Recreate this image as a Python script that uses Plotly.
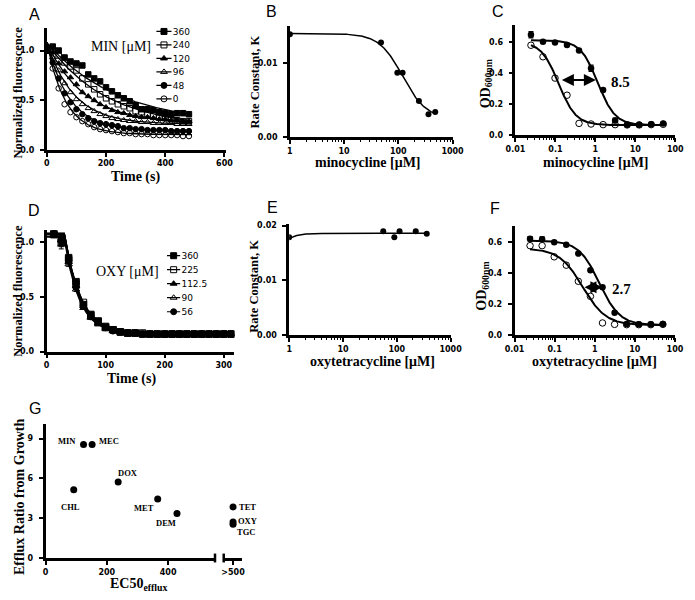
import numpy as np
import plotly.graph_objects as go

W, H = 695, 600

# ---------------- Panel A: MIN efflux kinetics ----------------
a_time = [0, 20, 40, 60, 80, 100, 120, 140, 160, 180, 200, 220, 240,
          260, 280, 300, 320, 340, 360, 380, 400, 420, 440, 460, 480]
a_labels = ["360", "240", "120", "96", "48", "0"]
a_min_360 = [1.00, 1.04, 1.00, 0.93, 0.89, 0.87, 0.85, 0.76, 0.72, 0.69, 0.63, 0.59, 0.55,
             0.52, 0.49, 0.45, 0.41, 0.41, 0.40, 0.38, 0.37, 0.36, 0.37, 0.37, 0.36]
a_min_240 = [1.00, 1.01, 0.95, 0.88, 0.84, 0.80, 0.72, 0.66, 0.61, 0.56, 0.52, 0.49, 0.46,
             0.44, 0.42, 0.39, 0.38, 0.36, 0.35, 0.33, 0.32, 0.31, 0.30, 0.29, 0.29]
a_min_120 = [1.00, 0.98, 0.87, 0.79, 0.73, 0.66, 0.58, 0.54, 0.50, 0.46, 0.43, 0.40, 0.38,
             0.37, 0.35, 0.34, 0.33, 0.33, 0.32, 0.31, 0.31, 0.30, 0.30, 0.29, 0.29]
a_min_96 = [1.00, 0.93, 0.80, 0.67, 0.58, 0.51, 0.46, 0.42, 0.39, 0.36, 0.34, 0.32, 0.31,
            0.30, 0.29, 0.29, 0.28, 0.28, 0.27, 0.27, 0.27, 0.27, 0.26, 0.26, 0.26]
a_min_48 = [1.00, 0.88, 0.72, 0.57, 0.48, 0.41, 0.36, 0.32, 0.29, 0.27, 0.26, 0.25, 0.24,
            0.22, 0.22, 0.21, 0.21, 0.20, 0.20, 0.20, 0.20, 0.19, 0.19, 0.19, 0.19]
a_min_0 = [1.00, 0.82, 0.62, 0.46, 0.38, 0.33, 0.29, 0.26, 0.23, 0.21, 0.20, 0.19, 0.18,
           0.17, 0.17, 0.16, 0.16, 0.16, 0.15, 0.15, 0.15, 0.15, 0.15, 0.14, 0.14]
a_fit_start = [1.08, 1.08, 1.08, 1.08, 1.08, 1.08]
a_fit_plateau = [0.25, 0.22, 0.27, 0.26, 0.19, 0.155]
a_fit_k = [0.0042, 0.005, 0.008, 0.011, 0.013, 0.016]
a_fit_tmax = 490

# ---------------- Panel B: rate constant vs minocycline ----------------
b_conc = [1, 48, 96, 120, 240, 360, 480]
b_rate = [0.0139, 0.0128, 0.0087, 0.0087, 0.0049, 0.0031, 0.0034]
b_fit = dict(top=0.0140, bottom=0.0025, ec50=120, hill=2.0)

# ---------------- Panel C: growth vs minocycline ----------------
c_conc = [0.0244, 0.0488, 0.0977, 0.195, 0.39, 0.78, 1.5625, 3.125, 6.25, 12.5, 25, 50]
c_od_filled = [0.645, 0.600, 0.595, 0.580, 0.545, 0.430, 0.290, 0.095, 0.068, 0.068, 0.070, 0.075]
c_od_filled_err = [0.02, 0, 0, 0, 0, 0.02, 0, 0.015, 0, 0, 0, 0]
c_od_open = [0.578, 0.504, 0.367, 0.257, 0.076, 0.072, 0.068, 0.068, 0.066, 0.066, 0.068, 0.070]
c_fit_filled = dict(top=0.61, bottom=0.065, ec50=1.15, hill=2.0)
c_fit_open = dict(top=0.60, bottom=0.065, ec50=0.12, hill=2.0)
c_shift_label = "8.5"
c_shift_from, c_shift_to, c_shift_level = 0.133, 1.03, 0.355

# ---------------- Panel D: OXY efflux kinetics ----------------
d_time = [12.5, 25, 37.5, 50, 62.5, 75, 87.5, 100, 112.5, 125, 137.5, 150, 162.5,
          175, 187.5, 200, 212.5, 225, 237.5, 250, 262.5, 275, 287.5, 300, 312.5]
d_labels = ["360", "225", "112.5", "90", "56"]
d_oxy_360 = [1.08, 1.03, 0.86, 0.64, 0.43, 0.34, 0.28, 0.23, 0.20, 0.18, 0.17, 0.17, 0.16,
             0.16, 0.16, 0.16, 0.16, 0.16, 0.16, 0.16, 0.16, 0.16, 0.16, 0.16, 0.16]
d_oxy_225 = [1.07, 1.00, 0.84, 0.62, 0.45, 0.33, 0.27, 0.22, 0.20, 0.18, 0.17, 0.17, 0.17,
             0.16, 0.16, 0.16, 0.16, 0.16, 0.16, 0.16, 0.16, 0.16, 0.16, 0.16, 0.16]
d_oxy_112 = [1.08, 1.02, 0.82, 0.60, 0.42, 0.32, 0.26, 0.22, 0.19, 0.18, 0.17, 0.17, 0.16,
             0.16, 0.16, 0.16, 0.16, 0.16, 0.16, 0.16, 0.16, 0.16, 0.16, 0.16, 0.16]
d_oxy_90 = [1.06, 0.98, 0.80, 0.57, 0.40, 0.31, 0.25, 0.21, 0.19, 0.18, 0.17, 0.16, 0.16,
            0.16, 0.16, 0.16, 0.16, 0.16, 0.16, 0.16, 0.16, 0.16, 0.16, 0.16, 0.16]
d_oxy_56 = [1.08, 1.01, 0.83, 0.59, 0.42, 0.32, 0.27, 0.22, 0.19, 0.18, 0.17, 0.17, 0.16,
            0.16, 0.16, 0.16, 0.16, 0.16, 0.16, 0.16, 0.16, 0.16, 0.16, 0.16, 0.16]
d_err = [0, 0.04, 0.02, 0.02, 0, 0, 0, 0, 0, 0, 0, 0, 0, 0, 0, 0, 0, 0, 0, 0, 0, 0, 0, 0, 0]
d_fit_start = [1.08, 1.07, 1.08, 1.05, 1.08]
d_fit_delay = [30, 30, 30, 30, 30]
d_fit_plateau = [0.16, 0.16, 0.16, 0.16, 0.16]
d_fit_k = [0.036, 0.036, 0.038, 0.040, 0.038]
d_fit_tmax = 312.5

# ---------------- Panel E: rate constant vs oxytetracycline ----------------
e_conc = [1, 56, 90, 112.5, 225, 360]
e_rate = [0.0179, 0.0190, 0.0179, 0.0190, 0.0190, 0.0185]
e_fit = dict(bottom=0.0150, top=0.0186, ec50=0.7, hill=3.0)

# ---------------- Panel F: growth vs oxytetracycline ----------------
f_conc = [0.0244, 0.0488, 0.0977, 0.195, 0.39, 0.78, 1.5625, 3.125, 6.25, 12.5, 25, 50]
f_od_filled = [0.622, 0.620, 0.600, 0.584, 0.527, 0.420, 0.310, 0.145, 0.072, 0.070, 0.070, 0.072]
f_od_filled_err = [0.015, 0.015, 0, 0, 0, 0.01, 0, 0.01, 0, 0, 0, 0]
f_od_open = [0.578, 0.578, 0.506, 0.452, 0.348, 0.251, 0.079, 0.070, 0.068, 0.068, 0.068, 0.070]
f_fit_filled = dict(top=0.61, bottom=0.065, ec50=1.3, hill=1.7)
f_fit_open = dict(top=0.56, bottom=0.065, ec50=0.5, hill=1.5)
f_shift_label = "2.7"
f_shift_from, f_shift_to, f_shift_level = 0.51, 1.55, 0.31

# ---------------- Panel G: efflux ratio vs EC50 ----------------
g_drugs = ["MIN", "MEC", "DOX", "CHL", "MET", "DEM"]
g_ec50 = [124, 152, 237, 92, 366, 429]
g_ratio = [8.55, 8.55, 5.74, 5.15, 4.45, 3.37]
g_over_drugs = ["TET", "OXY", "TGC"]
g_over_ec50 = [">500", ">500", ">500"]
g_over_ratio = [3.86, 2.72, 2.55]


# ---------------- helpers ----------------
def xd(p0, p1):
    return [p0 / W, p1 / W]


def yd(top, bottom):
    return [1 - bottom / H, 1 - top / H]


def px(x):
    return x / W


def py(y):
    return 1 - y / H


BLACK = "black"
tickfont = dict(family="DejaVu Sans", size=8, color=BLACK, weight="bold")
base_axis = dict(showline=True, linewidth=2.5, linecolor=BLACK, ticks="outside",
                 ticklen=4, tickwidth=1.5, tickcolor=BLACK, showgrid=False,
                 zeroline=False, tickfont=tickfont)


def log_minor(lo, hi):
    vals = []
    for e in range(lo, hi):
        for d in range(2, 10):
            vals.append(d * 10 ** e)
    return dict(ticks="outside", ticklen=2.5, tickwidth=1.2, tickcolor=BLACK,
                tickvals=vals, showgrid=False)


def hill_down(x, p):
    return p["bottom"] + (p["top"] - p["bottom"]) / (1 + (x / p["ec50"]) ** p["hill"])


fig = go.Figure()

# ---- Panel A traces ----
a_series = [a_min_360, a_min_240, a_min_120, a_min_96, a_min_48, a_min_0]
a_symbols = ["square", "square-open", "triangle-up", "triangle-up-open", "circle", "circle-open"]
t_fit = np.linspace(0, a_fit_tmax, 200)
for i, ys in enumerate(a_series):
    yfit = a_fit_plateau[i] + (a_fit_start[i] - a_fit_plateau[i]) * np.exp(-a_fit_k[i] * t_fit)
    fig.add_trace(go.Scatter(x=t_fit, y=yfit, mode="lines", xaxis="x", yaxis="y",
                             line=dict(color=BLACK, width=1.3), showlegend=False, hoverinfo="skip"))
for i, ys in enumerate(a_series):
    fig.add_trace(go.Scatter(x=a_time, y=ys, mode="markers", xaxis="x", yaxis="y",
                             name=a_labels[i], showlegend=False,
                             marker=dict(symbol=a_symbols[i], size=5.5, color=BLACK,
                                         line=dict(color=BLACK, width=1))))
# A legend drawn on a small categorical helper axis
for i, lab in enumerate(a_labels):
    fig.add_trace(go.Scatter(x=[0.5], y=[lab], mode="markers", xaxis="x9", yaxis="y9",
                             showlegend=False, hoverinfo="skip",
                             marker=dict(symbol=a_symbols[i], size=6, color=BLACK,
                                         line=dict(color=BLACK, width=1)),
                             error_x=dict(type="constant", value=0.5, width=0,
                                          thickness=1.2, color=BLACK)))

# ---- Panel B ----
bx = np.logspace(0, np.log10(max(b_conc)), 200)
fig.add_trace(go.Scatter(x=bx, y=hill_down(bx, b_fit), mode="lines", xaxis="x2", yaxis="y2",
                         line=dict(color=BLACK, width=1.5), showlegend=False))
fig.add_trace(go.Scatter(x=b_conc, y=b_rate, mode="markers", xaxis="x2", yaxis="y2",
                         marker=dict(symbol="circle", size=6, color=BLACK), showlegend=False))

# ---- Panel C ----
cx = np.logspace(np.log10(min(c_conc)), np.log10(max(c_conc)), 300)
fig.add_trace(go.Scatter(x=cx, y=hill_down(cx, c_fit_filled), mode="lines", xaxis="x3", yaxis="y3",
                         line=dict(color=BLACK, width=2), showlegend=False))
fig.add_trace(go.Scatter(x=cx, y=hill_down(cx, c_fit_open), mode="lines", xaxis="x3", yaxis="y3",
                         line=dict(color=BLACK, width=2), showlegend=False))
fig.add_trace(go.Scatter(x=c_conc, y=c_od_open, mode="markers", xaxis="x3", yaxis="y3",
                         marker=dict(symbol="circle-open", size=6.5, color=BLACK,
                                     line=dict(color=BLACK, width=1)), showlegend=False))
fig.add_trace(go.Scatter(x=c_conc, y=c_od_filled, mode="markers", xaxis="x3", yaxis="y3",
                         marker=dict(symbol="circle", size=6.5, color=BLACK),
                         error_y=dict(type="data", array=c_od_filled_err, color=BLACK,
                                      thickness=1.2, width=2.5),
                         showlegend=False))

# ---- Panel D ----
d_series = [d_oxy_360, d_oxy_225, d_oxy_112, d_oxy_90, d_oxy_56]
d_symbols = ["square", "square-open", "triangle-up", "triangle-up-open", "circle"]
td = np.linspace(0, d_fit_tmax, 400)
for i in range(len(d_series)):
    yfit = np.where(td < d_fit_delay[i], d_fit_start[i],
                    d_fit_plateau[i] + (d_fit_start[i] - d_fit_plateau[i]) *
                    np.exp(-d_fit_k[i] * (td - d_fit_delay[i])))
    fig.add_trace(go.Scatter(x=td, y=yfit, mode="lines", xaxis="x4", yaxis="y4",
                             line=dict(color=BLACK, width=1.8), showlegend=False))
for i, ys in enumerate(d_series):
    fig.add_trace(go.Scatter(x=d_time, y=ys, mode="markers", xaxis="x4", yaxis="y4",
                             name=d_labels[i], showlegend=False,
                             marker=dict(symbol=d_symbols[i], size=6.5, color=BLACK,
                                         line=dict(color=BLACK, width=1)),
                             error_y=dict(type="data", array=d_err, color=BLACK,
                                          thickness=1, width=2.5)))
for i, lab in enumerate(d_labels):
    fig.add_trace(go.Scatter(x=[0.5], y=[lab], mode="markers", xaxis="x10", yaxis="y10",
                             showlegend=False, hoverinfo="skip",
                             marker=dict(symbol=d_symbols[i], size=6, color=BLACK,
                                         line=dict(color=BLACK, width=1)),
                             error_x=dict(type="constant", value=0.5, width=0,
                                          thickness=1.2, color=BLACK)))

# ---- Panel E ----
ex = np.logspace(0, np.log10(max(e_conc)), 200)
ey = e_fit["bottom"] + (e_fit["top"] - e_fit["bottom"]) / (1 + (e_fit["ec50"] / ex) ** e_fit["hill"])
fig.add_trace(go.Scatter(x=ex, y=ey, mode="lines", xaxis="x5", yaxis="y5",
                         line=dict(color=BLACK, width=1.5), showlegend=False))
fig.add_trace(go.Scatter(x=e_conc, y=e_rate, mode="markers", xaxis="x5", yaxis="y5",
                         marker=dict(symbol="circle", size=6, color=BLACK), showlegend=False))

# ---- Panel F ----
fx = np.logspace(np.log10(min(f_conc)), np.log10(max(f_conc)), 300)
fig.add_trace(go.Scatter(x=fx, y=hill_down(fx, f_fit_filled), mode="lines", xaxis="x6", yaxis="y6",
                         line=dict(color=BLACK, width=2), showlegend=False))
fig.add_trace(go.Scatter(x=fx, y=hill_down(fx, f_fit_open), mode="lines", xaxis="x6", yaxis="y6",
                         line=dict(color=BLACK, width=2), showlegend=False))
fig.add_trace(go.Scatter(x=f_conc, y=f_od_open, mode="markers", xaxis="x6", yaxis="y6",
                         marker=dict(symbol="circle-open", size=6.5, color=BLACK,
                                     line=dict(color=BLACK, width=1)), showlegend=False))
fig.add_trace(go.Scatter(x=f_conc, y=f_od_filled, mode="markers", xaxis="x6", yaxis="y6",
                         marker=dict(symbol="circle", size=6.5, color=BLACK),
                         error_y=dict(type="data", array=f_od_filled_err, color=BLACK,
                                      thickness=1.2, width=2.5),
                         showlegend=False))

# ---- Panel G ----
fig.add_trace(go.Scatter(x=g_ec50, y=g_ratio, mode="markers", xaxis="x7", yaxis="y7",
                         marker=dict(symbol="circle", size=7, color=BLACK), showlegend=False))
fig.add_trace(go.Scatter(x=g_over_ec50, y=g_over_ratio, mode="markers", xaxis="x8", yaxis="y7",
                         marker=dict(symbol="circle", size=7, color=BLACK), showlegend=False))


# ---------------- layout ----------------
def ax(**kw):
    d = dict(base_axis)
    d.update(kw)
    return d


legend_tickfont = dict(family="DejaVu Sans", size=9, color=BLACK)

layout = dict(
    width=W, height=H, margin=dict(l=0, r=0, t=0, b=0),
    paper_bgcolor="white", plot_bgcolor="white", showlegend=False,
    # A
    xaxis=ax(domain=xd(38, 223), anchor="y", range=[0, 605], tickvals=[0, 200, 400, 600]),
    yaxis=ax(domain=yd(25, 149), anchor="x", range=[0, 1.23], tickvals=[0, 0.5, 1.0],
             tickformat=".1f", ticklabelstandoff=4),
    # B
    xaxis2=ax(domain=xd(289, 457), anchor="y2", type="log", range=[0, 3.0],
              tickvals=[1, 10, 100, 1000], ticktext=["1", "10", "100", "1000"],
              minor=log_minor(0, 3)),
    yaxis2=ax(domain=yd(23.5, 136), anchor="x2", range=[0, 0.015], tickvals=[0, 0.01],
              tickformat=".2f", ticklabelstandoff=4),
    # C
    xaxis3=ax(domain=xd(522, 687), anchor="y3", type="log", range=[-2, 2],
              tickvals=[0.01, 0.1, 1, 10, 100], ticktext=["0.01", "0.1", "1", "10", "100"],
              minor=log_minor(-2, 2)),
    yaxis3=ax(domain=yd(22, 134), anchor="x3", range=[0, 0.71], tickvals=[0, 0.2, 0.4, 0.6],
              tickformat=".1f", ticklabelstandoff=4),
    # D
    xaxis4=ax(domain=xd(37.7, 231.7), anchor="y4", range=[0, 318], tickvals=[0, 100, 200, 300]),
    yaxis4=ax(domain=yd(230.4, 353.3), anchor="x4", range=[0, 1.11], tickvals=[0, 0.5, 1.0],
              tickformat=".1f", ticklabelstandoff=4),
    # E
    xaxis5=ax(domain=xd(288.3, 455), anchor="y5", type="log", range=[0, 3.0],
              tickvals=[1, 10, 100, 1000], ticktext=["1", "10", "100", "1000"],
              minor=log_minor(0, 3)),
    yaxis5=ax(domain=yd(224, 336.7), anchor="x5", range=[0, 0.0203], tickvals=[0, 0.01, 0.02],
              tickformat=".2f", ticklabelstandoff=4),
    # F
    xaxis6=ax(domain=xd(521, 686.7), anchor="y6", type="log", range=[-2, 2],
              tickvals=[0.01, 0.1, 1, 10, 100], ticktext=["0.01", "0.1", "1", "10", "100"],
              minor=log_minor(-2, 2)),
    yaxis6=ax(domain=yd(226, 336.7), anchor="x6", range=[0, 0.705], tickvals=[0, 0.2, 0.4, 0.6],
              tickformat=".1f", ticklabelstandoff=4),
    # G
    xaxis7=ax(domain=xd(36.7, 211.7), anchor="y7", range=[0, 553], tickvals=[0, 200, 400]),
    yaxis7=ax(domain=yd(426.7, 562.7), anchor="x7", range=[0, 10.1], tickvals=[0, 3, 6, 9],
              ticklabelstandoff=4),
    xaxis8=ax(domain=xd(220.7, 240), anchor="y7", type="category", range=[-0.5, 0.5],
              categoryarray=[">500"], categoryorder="array"),
    # legends as helper axes
    xaxis9=dict(domain=xd(151, 167), anchor="y9", range=[0, 1], visible=False),
    yaxis9=dict(domain=yd(22, 104), anchor="x9", type="category", categoryorder="array",
                categoryarray=a_labels, range=[5.5, -0.5], side="right", showline=False,
                showgrid=False, zeroline=False, ticks="", tickfont=legend_tickfont),
    xaxis10=dict(domain=xd(162, 176), anchor="y10", range=[0, 1], visible=False),
    yaxis10=dict(domain=yd(249, 320), anchor="x10", type="category", categoryorder="array",
                 categoryarray=d_labels, range=[4.5, -0.5], side="right", showline=False,
                 showgrid=False, zeroline=False, ticks="", tickfont=legend_tickfont),
)
fig.update_layout(**layout)

# ---------------- annotations ----------------
ann = []
serif = "Liberation Serif"


def paper_text(text, x, y, size, family=serif, angle=0, xanchor="center", yanchor="middle"):
    ann.append(dict(text=text, x=px(x), y=py(y), xref="paper", yref="paper", showarrow=False,
                    textangle=angle, xanchor=xanchor, yanchor=yanchor,
                    font=dict(family=family, size=size, color=BLACK)))


# panel letters
for letter, x, y in [("A", 25, 12), ("B", 270, 9), ("C", 504, 9), ("D", 25, 210),
                     ("E", 271, 207), ("F", 501, 208), ("G", 26, 411)]:
    paper_text(letter, x, y, 16, family="Liberation Sans")

# axis titles
paper_text("<b>Normalized fluorescence</b>", 8, 91, 12.5, angle=-90)
paper_text("<b>Time (s)</b>", 130, 176, 14)
paper_text("<b>Rate Constant, K</b>", 252.5, 80, 12.5, angle=-90)
paper_text("<b>minocycline [μM]</b>", 370, 162, 14)
paper_text("<b>OD<sub>600nm</sub></b>", 492, 82, 14, angle=-90)
paper_text("<b>minocycline [μM]</b>", 605, 162, 14)
paper_text("<b>Normalized fluorescence</b>", 8, 292, 12.5, angle=-90)
paper_text("<b>Time (s)</b>", 125, 381, 14)
paper_text("<b>Rate Constant, K</b>", 252.5, 287, 12.5, angle=-90)
paper_text("<b>oxytetracycline [μM]</b>", 374, 363, 14)
paper_text("<b>OD<sub>600nm</sub></b>", 488, 287, 14, angle=-90)
paper_text("<b>oxytetracycline [μM]</b>", 604, 363, 14)
paper_text("<b>Efflux Ratio from Growth</b>", 10, 501, 14, angle=-90)
paper_text("<b>EC50<sub>efflux</sub></b>", 133, 589, 14)

# legend titles
paper_text("MIN [μM]", 115, 44, 14)
paper_text("OXY [μM]", 121, 272, 14)

# fold-shift arrows
for xref, yref, x0, x1, yv in [
        ("x3", "y3", c_shift_from, c_shift_to, c_shift_level),
        ("x6", "y6", f_shift_from, f_shift_to, f_shift_level)]:
    ann.append(dict(x=np.log10(x1), y=yv, ax=np.log10(x0), ay=yv, xref=xref, yref=yref,
                    axref=xref, ayref=yref, text="", showarrow=True, arrowhead=2,
                    arrowside="end+start", arrowsize=1.2, arrowwidth=2, arrowcolor=BLACK))
paper_text("<b>" + c_shift_label + "</b>", 630, 80, 15)
paper_text("<b>" + f_shift_label + "</b>", 632, 290, 15)

# G labels
g_offsets = [(-17, 4), (17, 4), (10, 9), (-3, -17), (-14, -9), (-11, -10)]
for i, name in enumerate(g_drugs):
    ann.append(dict(x=g_ec50[i], y=g_ratio[i], xref="x7", yref="y7", text="<b>" + name + "</b>",
                    showarrow=False, xshift=g_offsets[i][0], yshift=g_offsets[i][1],
                    font=dict(family=serif, size=8.5, color=BLACK)))
g_over_offsets = [(14, 0), (14, 1), (13, -8)]
for i, name in enumerate(g_over_drugs):
    ann.append(dict(x=0, y=g_over_ratio[i], xref="x8", yref="y7", text="<b>" + name + "</b>",
                    showarrow=False, xshift=g_over_offsets[i][0], yshift=g_over_offsets[i][1],
                    font=dict(family=serif, size=8.5, color=BLACK)))

fig.update_layout(annotations=ann)

# axis break marks in G
shapes = []
for xb in (211.7, 220.7):
    shapes.append(dict(type="line", xref="paper", yref="paper", x0=px(xb), x1=px(xb),
                       y0=py(558), y1=py(567), line=dict(color=BLACK, width=2.5)))
fig.update_layout(shapes=shapes)

fig.write_html("out.html", config={"displayModeBar": False},
               post_script="document.body.style.margin='0px';")
